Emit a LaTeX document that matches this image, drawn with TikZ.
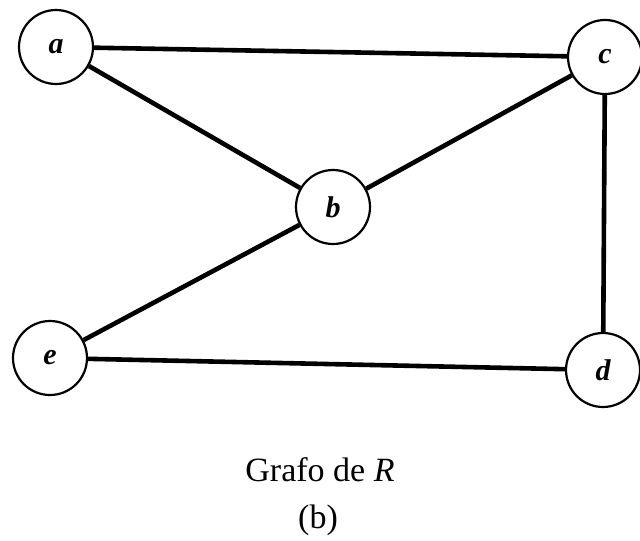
\documentclass[tikz,border=0pt]{standalone}
\usepackage{fontspec}
\setmainfont{Liberation Serif}
\begin{document}
\begin{tikzpicture}[x=0.5pt,y=-0.5pt,
  vert/.style={circle,draw,line width=1.1pt,minimum size=37pt,inner sep=0pt,fill=white,font=\fontsize{15}{18}\selectfont\bfseries\itshape},
  edge/.style={line width=2.3pt}]
\useasboundingbox (0,0) rectangle (640,540);
\node[vert] (a) at (56,47) {a};
\node[vert] (c) at (605,57) {c};
\node[vert] (b) at (333,207) {b};
\node[vert] (e) at (50,358) {e};
\node[vert] (d) at (603,370) {d};
\draw[edge] (a) -- (c);
\draw[edge] (a) -- (b);
\draw[edge] (b) -- (c);
\draw[edge] (c) -- (d);
\draw[edge] (b) -- (e);
\draw[edge] (e) -- (d);
\node[font=\fontsize{17}{20}\selectfont] (t) at (320,470) {Grafo de \textit{R}};
\node[font=\fontsize{17}{20}\selectfont] (s) at (318,520) {(b)};
\end{tikzpicture}
\end{document}
